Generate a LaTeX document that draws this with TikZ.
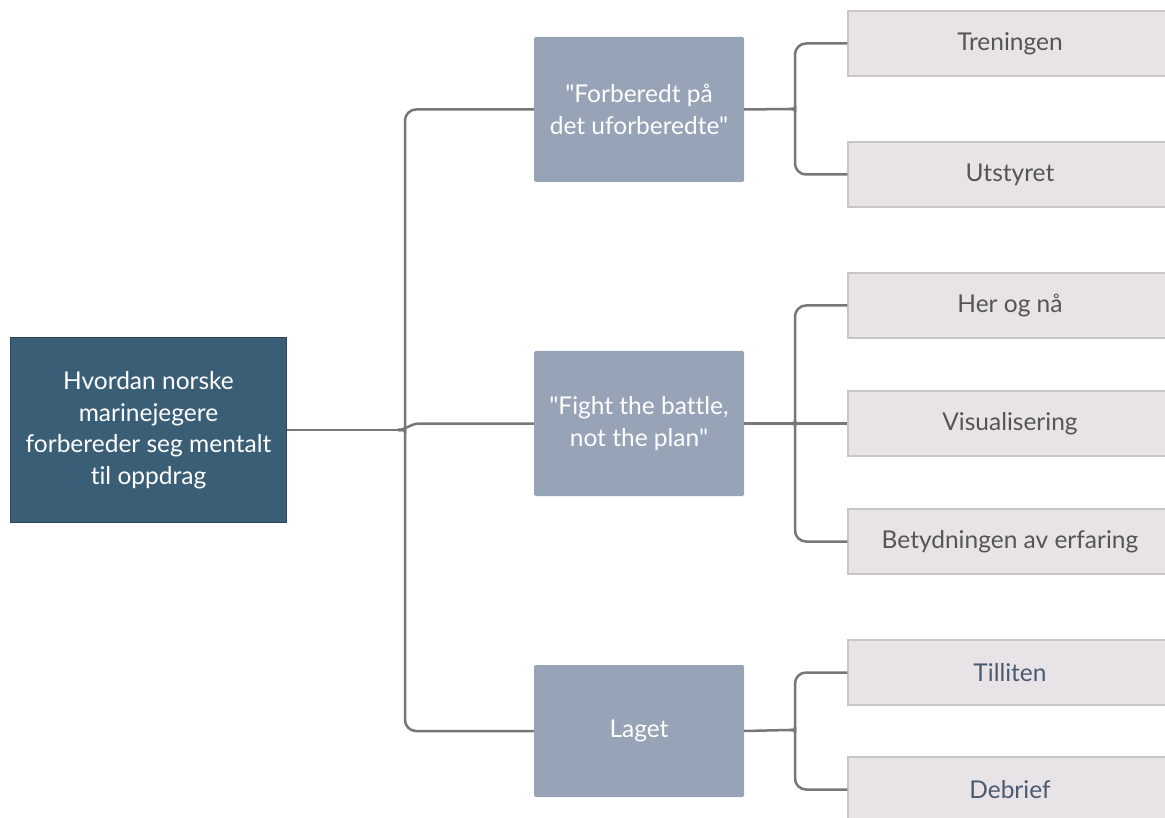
\documentclass[tikz,border=0pt]{standalone}
\usepackage{fontspec}
\setmainfont{Lato}[Ligatures={TeXOff,NoCommon}]
\usetikzlibrary{calc}
\definecolor{rootfill}{HTML}{3B5E77}
\definecolor{rootdraw}{HTML}{2B485C}
\definecolor{midfill}{HTML}{97A3B6}
\definecolor{leaffill}{HTML}{E7E3E7}
\definecolor{leafdraw}{HTML}{C9C5C9}
\definecolor{leaftext}{HTML}{555555}
\definecolor{leaftextb}{HTML}{4B5A6F}
\definecolor{linecol}{HTML}{777777}
\tikzset{
  txt/.style={font=\fontsize{24.5}{31.5}\selectfont, align=center, inner sep=0pt},
  rootbox/.style={txt, rectangle, fill=rootfill, draw=rootdraw, line width=1.2pt, text=white,
    minimum width=276pt, minimum height=185pt},
  midbox/.style={txt, rectangle, rounded corners=1.5pt, fill=midfill, text=white,
    minimum width=210pt, minimum height=145pt},
  leafbox/.style={txt, rectangle, fill=leaffill, draw=leafdraw, line width=1.2pt, text=leaftext,
    minimum width=324pt, minimum height=65pt},
  conn/.style={draw=linecol, line width=2.5pt},
}
\begin{document}
\begin{tikzpicture}[x=1pt,y=-1pt]
\useasboundingbox (0,0) rectangle (1165,818);
\clip (0,0) rectangle (1165,818);
\fill[white] (0,0) rectangle (1165,818);

\node[rootbox] (root) at (148.5,430) {Hvordan norske\\marinejegere\\forbereder seg mentalt\\til oppdrag};

\node[midbox] (m1) at (639,109.5) {"Forberedt på\\det uforberedte"};
\node[midbox] (m2) at (639,423.5) {"Fight the battle,\\not the plan"};
\node[midbox, minimum height=132pt] (m3) at (639,731) {Laget};

\node[leafbox] (l1) at (1010,43.5) {Treningen};
\node[leafbox] (l2) at (1010,174.5) {Utstyret};
\node[leafbox] (l3) at (1010,305.5) {Her og nå};
\node[leafbox] (l4) at (1010,423.5) {Visualisering};
\node[leafbox] (l5) at (1010,541.5) {Betydningen av erfaring};
\node[leafbox,text=leaftextb] (l6) at (1010,672.5) {Tilliten};
\node[leafbox,text=leaftextb] (l7) at (1010,789.5) {Debrief};

% root brace
\coordinate (t0) at (398,430);
\draw[conn] (root.east) -- (t0);
\draw[conn,rounded corners=11pt] (t0) .. controls (404,430) and (405,428) .. (405,422) |- (m1.west);
\draw[conn,rounded corners=11pt] (t0) .. controls (404,430) and (405,432) .. (405,438) |- (m3.west);
\draw[conn] (t0) .. controls (406,430) and (410,423.5) .. (420,423.5) -- (m2.west);

% brace 1
\coordinate (t1) at (789,109);
\draw[conn] (m1.east) -- (t1);
\draw[conn,rounded corners=11pt] (t1) .. controls (794,109) and (795,107) .. (795,101) |- (l1.west);
\draw[conn,rounded corners=11pt] (t1) .. controls (794,109) and (795,111) .. (795,117) |- (l2.west);

% brace 2
\coordinate (t2) at (789,423.5);
\draw[conn] (m2.east) -- (t2);
\draw[conn,rounded corners=11pt] (t2) .. controls (794,423.5) and (795,421.5) .. (795,415.5) |- (l3.west);
\draw[conn,rounded corners=11pt] (t2) .. controls (794,423.5) and (795,425.5) .. (795,431.5) |- (l5.west);
\draw[conn] (t2) -- (l4.west);

% brace 3
\coordinate (t3) at (789,730);
\draw[conn] (m3.east) -- (t3);
\draw[conn,rounded corners=11pt] (t3) .. controls (794,730) and (795,728) .. (795,722) |- (l6.west);
\draw[conn,rounded corners=11pt] (t3) .. controls (794,730) and (795,732) .. (795,738) |- (l7.west);
\end{tikzpicture}
\end{document}
